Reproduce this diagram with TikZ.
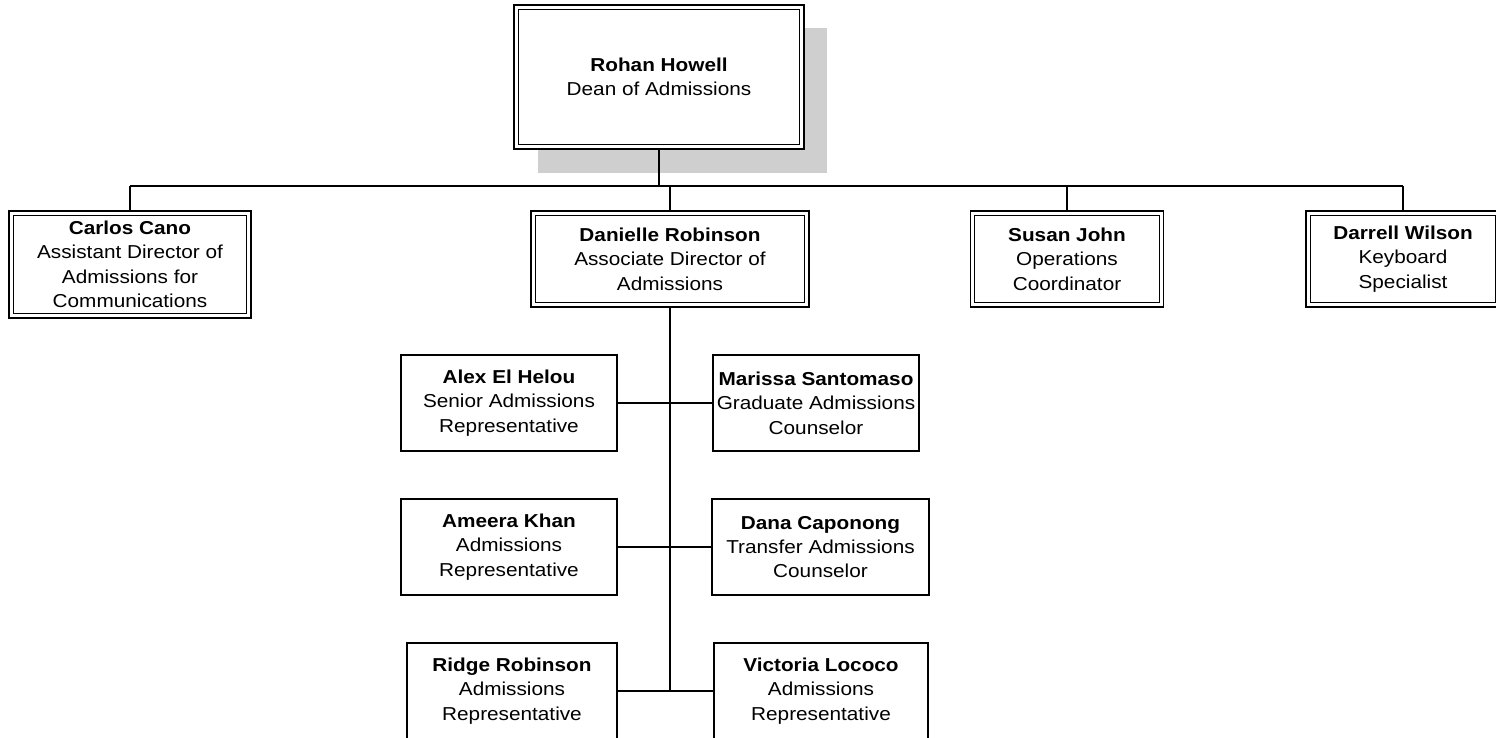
\documentclass[tikz,border=0pt]{standalone}
\usepackage{fontspec}
\setmainfont{Liberation Sans}[FakeStretch=1.11]
\begin{document}
\begin{tikzpicture}[x=1pt,y=-1pt,
  every node/.style={font=\fontsize{18.7}{24.4}\selectfont},
  box/.style={draw, line width=1.3pt, fill=white, inner sep=0pt, align=center},
  dblbox/.style={box},
  innerline/.style={draw, line width=1.1pt},
  conn/.style={draw, line width=1.2pt},
  shadow/.style={fill=black!19, draw=none}]
\useasboundingbox (0,0) rectangle (1496,738);
% shadow of top box
\fill[shadow] (538,28) rectangle (827,173);
% top level
\node[dblbox, minimum width=290pt, minimum height=144pt] (rohan) at (659,77) {\textbf{Rohan Howell}\\Dean of Admissions};
% second level
\node[dblbox, minimum width=242pt, minimum height=107pt] (carlos) at (130,264.5) {\textbf{Carlos Cano}\\Assistant Director of\\Admissions for\\Communications};
\node[dblbox, minimum width=278pt, minimum height=96pt] (danielle) at (670,259) {\textbf{Danielle Robinson}\\Associate Director of\\Admissions};
\node[dblbox, minimum width=193pt, minimum height=96pt] (susan) at (1067,259) {\textbf{Susan John}\\Operations\\Coordinator};
\node[dblbox, minimum width=194pt, minimum height=96pt] (darrell) at (1403,259) {\textbf{Darrell Wilson}\\Keyboard\\Specialist};
% inner borders of double boxes
\foreach \n in {rohan,carlos,danielle,susan,darrell}
  \draw[innerline] ([xshift=5pt,yshift=-5pt]\n.north west) rectangle ([xshift=-5pt,yshift=5pt]\n.south east);
% third level
\node[box, minimum width=216pt, minimum height=96pt] (alex) at (509,403) {\textbf{Alex El Helou}\\Senior Admissions\\Representative};
\node[box, minimum width=206pt, minimum height=96pt] (marissa) at (816,403) {\textbf{Marissa Santomaso}\\Graduate Admissions\\Counselor};
\node[box, minimum width=216pt, minimum height=96pt] (ameera) at (509,547) {\textbf{Ameera Khan}\\Admissions\\Representative};
\node[box, minimum width=217pt, minimum height=96pt] (dana) at (820.5,547) {\textbf{Dana Caponong}\\Transfer Admissions\\Counselor};
\node[box, minimum width=210pt, minimum height=96pt] (ridge) at (512,691) {\textbf{Ridge Robinson}\\Admissions\\Representative};
\node[box, minimum width=214pt, minimum height=96pt] (victoria) at (821,691) {\textbf{Victoria Lococo}\\Admissions\\Representative};
% connectors
\coordinate (bus) at (0,186);
\draw[conn] (rohan.south) -- (rohan.south |- bus);
\draw[conn] (carlos.north |- bus) -- (darrell.north |- bus);
\foreach \n in {carlos,danielle,susan,darrell}
  \draw[conn] (\n.north |- bus) -- (\n.north);
\draw[conn] (danielle.south) -- (danielle.south |- ridge.east);
\draw[conn] (alex.east) -- (marissa.west);
\draw[conn] (ameera.east) -- (dana.west);
\draw[conn] (ridge.east) -- (victoria.west);
\end{tikzpicture}
\end{document}
